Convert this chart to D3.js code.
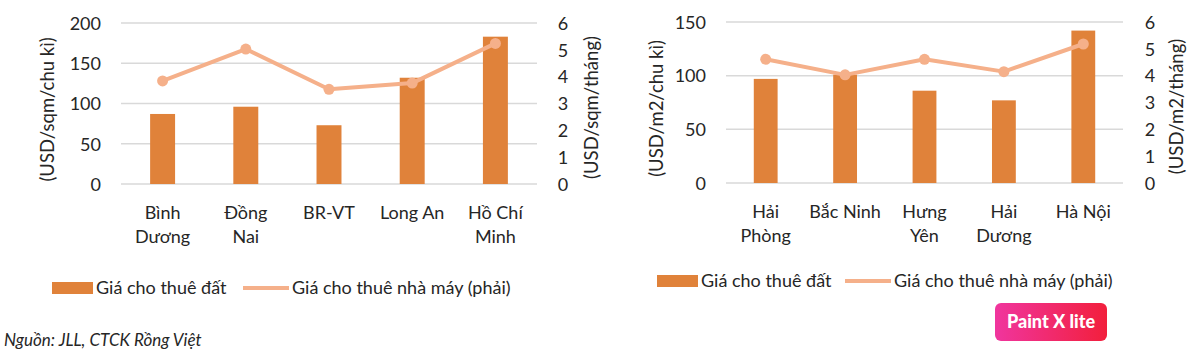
<!DOCTYPE html>
<html><head><meta charset="utf-8">
<script src="https://cdn.jsdelivr.net/npm/d3@7"></script>
<style>body{margin:0;background:#fff}svg text{font-family:Lato,"Open Sans",sans-serif;fill:#262626}</style>
</head><body>
<svg id="c" width="1193" height="357"></svg>
<script>
// Left chart (South)
const southCategories = [["Bình","Dương"],["Đồng","Nai"],["BR-VT"],["Long An"],["Hồ Chí","Minh"]];
const southLand = [87, 96, 73, 132, 183];
const southFactory = [3.84, 5.03, 3.53, 3.76, 5.24];
const southLeftTicks = [0, 50, 100, 150, 200];
const southRightTicks = [0, 1, 2, 3, 4, 5, 6];
// Right chart (North)
const northCategories = [["Hải","Phòng"],["Bắc Ninh"],["Hưng","Yên"],["Hải","Dương"],["Hà Nội"]];
const northLand = [97, 101, 86, 77, 142];
const northFactory = [4.61, 4.03, 4.61, 4.15, 5.18];
const northLeftTicks = [0, 50, 100, 150];
const northRightTicks = [0, 1, 2, 3, 4, 5, 6];
const legendBar = "Giá cho thuê đất";
const legendLine = "Giá cho thuê nhà máy (phải)";
const sourceText = "Nguồn: JLL, CTCK Rồng Việt";

const BAR = "#E0823A", LINE = "#F5B08A", GRID = "#d9d9d9";
const svg = d3.select("#c");

function chart(o) {
  const g = svg.append("g");
  const x = d3.scaleBand().domain(o.cats.map((d,i)=>i)).range([o.x0, o.x1]).paddingInner(0.7).paddingOuter(0.35);
  const xc = d3.scaleBand().domain(o.cats.map((d,i)=>i)).range([o.x0, o.x1]);
  const yL = d3.scaleLinear().domain([0, d3.max(o.lt)]).range([o.yb, o.yt]);
  const yR = d3.scaleLinear().domain([0, d3.max(o.rt)]).range([o.yb, o.yt]);
  // grid
  g.selectAll(".gl").data(o.lt).join("line")
    .attr("x1", o.x0).attr("x2", o.x1).attr("y1", d=>yL(d)).attr("y2", d=>yL(d))
    .attr("stroke", GRID).attr("stroke-width", 1.5);
  // left axis
  const la = g.append("g").attr("transform", `translate(${o.x0 - 20},0)`)
    .call(d3.axisLeft(yL).tickValues(o.lt).tickSize(0).tickPadding(0).tickFormat(d3.format("d")));
  la.select(".domain").remove();
  la.selectAll("text").style("font-size", "18px").attr("dy", "0.35em");
  // right axis
  const ra = g.append("g").attr("transform", `translate(${o.rx},0)`)
    .call(d3.axisRight(yR).tickValues(o.rt).tickSize(0).tickPadding(0).tickFormat(d3.format("d")));
  ra.select(".domain").remove();
  ra.selectAll("text").style("font-size", "18px").attr("text-anchor", "middle").attr("dy", "0.35em");
  // axis titles
  g.append("text").attr("transform", `translate(${o.ltx},${(o.yt+o.yb)/2 + 6}) rotate(-90)`)
    .attr("text-anchor","middle").attr("dy","0.35em").style("font-size","18.5px").text(o.ltitle);
  g.append("text").attr("transform", `translate(${o.rtx},${(o.yt+o.yb)/2 + 4}) rotate(-90)`)
    .attr("text-anchor","middle").attr("dy","0.35em").style("font-size","18.5px").text(o.rtitle);
  // bars
  g.selectAll(".bar").data(o.bars).join("rect")
    .attr("x", (d,i)=>x(i)).attr("width", x.bandwidth())
    .attr("y", d=>yL(d)).attr("height", d=>yL(0)-yL(d)).attr("fill", BAR);
  // line
  const line = d3.line().x((d,i)=>xc(i)+xc.bandwidth()/2).y(d=>yR(d));
  g.append("path").datum(o.line).attr("d", line).attr("fill","none")
    .attr("stroke", LINE).attr("stroke-width", 4).attr("stroke-linejoin","round");
  g.selectAll(".pt").data(o.line).join("circle")
    .attr("cx", (d,i)=>xc(i)+xc.bandwidth()/2).attr("cy", d=>yR(d)).attr("r", 5.5).attr("fill", LINE);
  // category labels
  o.cats.forEach((c,i)=>{
    const t = g.append("text").attr("x", xc(i)+xc.bandwidth()/2).attr("y", o.yb + 35)
      .attr("text-anchor","middle").style("font-size","18px");
    c.forEach((s,j)=>t.append("tspan").attr("x", xc(i)+xc.bandwidth()/2).attr("dy", j? "24":"0").text(s));
  });
  // legend
  g.append("rect").attr("x", o.lgx).attr("y", o.lgy-6).attr("width", 41).attr("height", 12).attr("fill", BAR);
  g.append("text").attr("x", o.lgx+44).attr("y", o.lgy).attr("dy","0.35em").style("font-size","18px").text(legendBar);
  g.append("line").attr("x1", o.lgx2).attr("x2", o.lgx2+46).attr("y1", o.lgy).attr("y2", o.lgy)
    .attr("stroke", LINE).attr("stroke-width", 4);
  g.append("text").attr("x", o.lgx2+49).attr("y", o.lgy).attr("dy","0.35em").style("font-size","18px").text(legendLine);
}

chart({cats: southCategories, bars: southLand, line: southFactory, lt: southLeftTicks, rt: southRightTicks,
  x0: 121, x1: 537, yt: 23, yb: 184, rx: 563, ltx: 48, rtx: 592,
  ltitle: "(USD/sqm/chu kì)", rtitle: "(USD/sqm/tháng)", lgx: 52, lgx2: 243, lgy: 288});
chart({cats: northCategories, bars: northLand, line: northFactory, lt: northLeftTicks, rt: northRightTicks,
  x0: 726, x1: 1123, yt: 22, yb: 183, rx: 1150, ltx: 657, rtx: 1177,
  ltitle: "(USD/m2/chu kì)", rtitle: "(USD/m2/tháng)", lgx: 657, lgx2: 845, lgy: 281});

svg.append("text").attr("x", 4).attr("y", 346).style("font-size","17px").style("font-style","italic").text(sourceText);

// watermark badge
const defs = svg.append("defs");
const gr = defs.append("linearGradient").attr("id","pg");
gr.append("stop").attr("offset","0").attr("stop-color","#F0359E");
gr.append("stop").attr("offset","1").attr("stop-color","#F21F3C");
svg.append("rect").attr("x", 995).attr("y", 303).attr("width", 112).attr("height", 38).attr("rx", 6).attr("fill","url(#pg)");
svg.append("text").attr("x", 1051).attr("y", 322).attr("dy","0.35em").attr("text-anchor","middle")
  .style("font-size","18px").style("font-weight","900").style("fill","#fff").text("Paint X lite");
</script>
</body></html>
